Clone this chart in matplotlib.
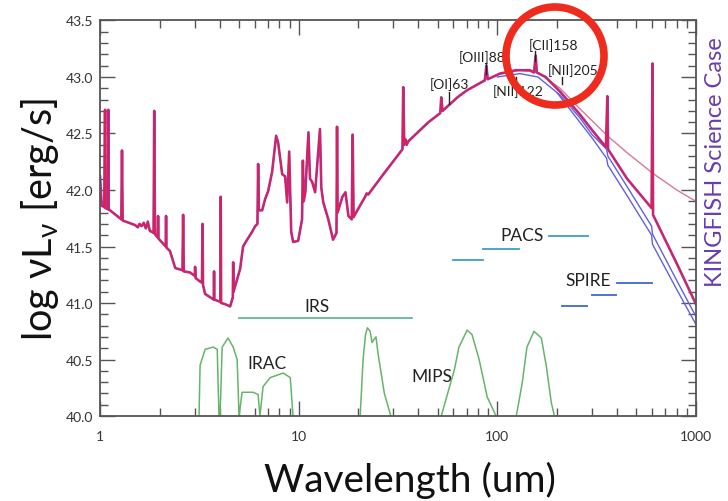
import matplotlib.pyplot as plt
from matplotlib.patches import Ellipse
from matplotlib.ticker import FixedLocator, NullFormatter

# Спектр галактики (довжина хвилі в мкм, log vLv)
sed_wave = [1.00, 1.02, 1.05, 1.06, 1.065, 1.095, 1.10, 1.105, 1.28, 1.29, 1.30,
            1.50, 1.55, 1.58, 1.62, 1.66, 1.70, 1.74, 1.78, 1.86, 1.875, 1.89,
            1.95, 1.96, 1.97, 2.14, 2.15, 2.16, 2.25, 2.39, 2.60, 2.62, 2.64,
            2.84, 3.00, 3.01, 3.03, 3.19, 3.26, 3.28, 3.30, 3.38, 3.74, 3.75,
            3.76, 4.04, 4.05, 4.07, 4.26, 4.52, 4.66, 4.68, 4.70, 5.07, 5.25,
            5.5, 5.83, 6.04, 6.2, 6.25, 6.3, 6.55, 6.78, 7.02, 7.35, 7.70, 7.88,
            8.26, 8.55, 8.75, 8.96, 9.17, 9.38, 9.94, 10.4, 10.5, 10.6, 10.8,
            11.2, 11.4, 11.7, 12.1, 12.8, 13.0, 13.3, 14.1, 14.9, 15.5, 15.6,
            15.7, 16.6, 17.2, 17.8, 18.5, 18.7, 18.9, 19.3, 21.6, 22.0, 22.4,
            26.7, 33.3, 33.6, 34.0, 34.4, 35.0, 35.6, 45.0, 51.6, 52.2, 53.0,
            57.0, 63.0, 70.0, 86.5, 88.1, 89.5, 103, 124, 146, 153, 156, 158,
            175, 207, 260, 300, 352, 358, 361, 450, 598, 604, 608, 800, 1000]
sed_lum = [42.12, 41.86, 41.85, 42.71, 41.84, 41.83, 42.71, 41.83, 41.74, 42.35, 41.73,
           41.69, 41.67, 41.70, 41.68, 41.71, 41.66, 41.72, 41.64, 41.62, 42.70, 41.61,
           41.58, 41.77, 41.57, 41.50, 41.77, 41.49, 41.46, 41.31, 41.29, 41.78, 41.28,
           41.27, 41.24, 41.32, 41.22, 41.19, 41.18, 41.70, 41.16, 41.08, 41.03, 41.28,
           41.03, 41.01, 41.94, 41.00, 40.99, 40.97, 41.05, 41.36, 41.10, 41.30, 41.50,
           41.56, 41.63, 41.68, 41.70, 42.23, 41.82, 41.82, 41.92, 41.99, 42.16, 42.48, 42.42,
           42.14, 42.12, 41.89, 42.34, 41.63, 41.54, 41.55, 41.74, 42.26, 41.90, 41.98,
           42.51, 42.10, 42.07, 41.98, 42.54, 42.02, 41.89, 41.74, 41.56, 41.62, 42.56,
           41.80, 41.94, 41.98, 41.77, 41.74, 42.49, 41.76, 41.79, 41.94, 41.97, 41.96,
           42.14, 42.36, 42.91, 42.40, 42.45, 42.40, 42.43, 42.60, 42.68, 42.82, 42.70,
           42.75, 42.82, 42.88, 42.97, 43.10, 42.98, 43.03, 43.06, 43.06, 43.04, 43.19, 43.04,
           43.00, 42.87, 42.67, 42.53, 42.38, 42.83, 42.36, 42.10, 41.84, 43.12, 41.78, 41.35, 40.99]

# Моделі пилу в далекому ІЧ
dust_wave = [100, 130, 160, 207, 260, 358, 450, 604, 800, 1000]
dust_lum = [43.02, 43.06, 43.04, 42.90, 42.72, 42.48, 42.33, 42.15, 42.00, 41.90]

blue1_wave = [100, 130, 160, 207, 260, 300, 355, 360, 450, 598, 604, 800, 1000]
blue1_lum = [43.00, 43.03, 43.00, 42.84, 42.64, 42.49, 42.36, 42.30, 42.03, 41.68, 41.61, 41.20, 40.88]
blue2_wave = [200, 300, 355, 360, 450, 598, 604, 800, 1000]
blue2_lum = [42.86, 42.46, 42.28, 42.22, 41.95, 41.60, 41.52, 41.12, 40.81]

# Фільтри IRAC та MIPS
irac_wave = [3.15, 3.19, 3.38, 3.71, 3.89, 3.97, 4.02, 4.12, 4.41, 4.68, 4.90, 5.01,
             5.19, 5.90, 6.25, 6.38, 6.62, 7.19, 8.36, 9.07, 9.37]
irac_resp = [40.0, 40.45, 40.59, 40.61, 40.59, 40.0, 40.0, 40.61, 40.69, 40.61, 40.50, 40.0,
             40.21, 40.21, 40.19, 40.0, 40.26, 40.34, 40.38, 40.34, 40.0]
mips24_wave = [20.4, 21.1, 21.7, 22.2, 22.9, 23.4, 24.0, 24.5, 25.1, 27.0, 29.1]
mips24_resp = [40.0, 40.5, 40.72, 40.78, 40.75, 40.65, 40.68, 40.7, 40.55, 40.2, 40.0]
mips70_wave = [52.2, 60.8, 64.1, 70.5, 74.6, 81.0, 88.9, 98.5]
mips70_resp = [40.0, 40.41, 40.61, 40.76, 40.72, 40.50, 40.17, 40.0]
mips160_wave = [124.6, 133.4, 141, 153, 166.6, 176.5, 186.9, 193.8]
mips160_resp = [40.0, 40.29, 40.61, 40.75, 40.69, 40.44, 40.12, 40.0]

# Діапазони спектрометрів і фотометрів
irs_range = [5.0, 37.3]
irs_level = 40.87
pacs_ranges = [(60, 85), (85, 129), (181, 287)]
pacs_levels = [41.38, 41.48, 41.59]
spire_ranges = [(212, 284), (301, 397), (402, 604)]
spire_levels = [40.97, 41.07, 41.18]

# Спектральні лінії: назва, довжина хвилі мітки, позиція підпису
line_names = ['[OI]63', '[OIII]88', '[NII]122', '[CII]158', '[NII]205']
line_marks = [57.3, 88.1, 124.6, 155, 212.6]
line_mark_lo = [42.76, 43.03, 42.94, 43.14, 42.94]
line_mark_hi = [42.87, 43.12, 43.00, 43.23, 43.00]
label_wave = [57.3, 84, 127.6, 191, 241.5]
label_lum = [42.94, 43.18, 42.88, 43.29, 43.07]

plt.rcParams['font.family'] = ['Lato', 'DejaVu Sans']

fig = plt.figure(figsize=(7.28, 5.02), dpi=100)
ax = fig.add_axes([0.1374, 0.1693, 0.8186, 0.7879])

ax.plot(blue2_wave, blue2_lum, color='#6160e0', lw=1.0)
ax.plot(blue1_wave, blue1_lum, color='#6160e0', lw=1.0)
ax.plot(dust_wave, dust_lum, color='#dc7890', lw=1.0)
ax.plot(sed_wave, sed_lum, color='#9a3fb0', lw=1.9)
ax.plot(sed_wave, sed_lum, color='#dc1f55', lw=1.1)

green = '#66b46a'
ax.plot(irac_wave, irac_resp, color=green, lw=1.1)
ax.plot(mips24_wave, mips24_resp, color=green, lw=1.1)
ax.plot(mips70_wave, mips70_resp, color=green, lw=1.1)
ax.plot(mips160_wave, mips160_resp, color=green, lw=1.1)

ax.plot(irs_range, [irs_level, irs_level], color='#66b8a0', lw=1.3)
for (w1, w2), lvl in zip(pacs_ranges, pacs_levels):
    ax.plot([w1, w2], [lvl, lvl], color='#3f9fc0', lw=1.3)
for (w1, w2), lvl in zip(spire_ranges, spire_levels):
    ax.plot([w1, w2], [lvl, lvl], color='#4068d0', lw=1.3)

inst_font = dict(fontsize=12.5, color='#222222', ha='center', va='center')
ax.text(12.3, 40.97, 'IRS', **inst_font)
ax.text(6.9, 40.47, 'IRAC', **inst_font)
ax.text(47, 40.35, 'MIPS', **inst_font)
ax.text(133, 41.60, 'PACS', **inst_font)
ax.text(287, 41.20, 'SPIRE', **inst_font)

for w, lo, hi in zip(line_marks, line_mark_lo, line_mark_hi):
    ax.plot([w, w], [lo, hi], color='#222222', lw=1)
for name, w, v in zip(line_names, label_wave, label_lum):
    ax.text(w, v, name, fontsize=10, color='#222222', ha='center', va='center')

ax.set_xscale('log')
ax.set_xlim(1, 1000)
ax.set_ylim(40.0, 43.5)
ax.xaxis.set_major_locator(FixedLocator([1, 10, 100, 1000]))
ax.xaxis.set_minor_locator(FixedLocator([m * d for d in [1, 10, 100] for m in range(2, 10)]))
ax.xaxis.set_minor_formatter(NullFormatter())
ax.set_xticklabels(['1', '10', '100', '1000'])
ax.yaxis.set_major_locator(FixedLocator([40.0, 40.5, 41.0, 41.5, 42.0, 42.5, 43.0, 43.5]))
ax.yaxis.set_minor_locator(FixedLocator([40 + i * 0.1 for i in range(36)]))
ax.set_yticklabels(['40.0', '40.5', '41.0', '41.5', '42.0', '42.5', '43.0', '43.5'])
ax.tick_params(which='both', direction='in', top=True, right=True, color='#555555',
               labelsize=10, labelcolor='#333333')
ax.tick_params(which='major', length=11, width=1)
ax.tick_params(which='minor', length=5.5, width=1)
ax.tick_params(axis='x', pad=10)
ax.tick_params(axis='y', pad=5)
for s in ax.spines.values():
    s.set_color('#555555')
    s.set_linewidth(1.3)

fig.text(40 / 728, 1 - 220 / 502, 'log νL$_\\mathregular{ν}$ [erg/s]', rotation=90,
         fontsize=28.5, ha='center', va='center', color='#111111')
fig.text(410 / 728, 1 - 480 / 502, 'Wavelength (um)', fontsize=28,
         ha='center', va='center', color='#111111')
fig.text(716 / 728, 1 - 162 / 502, 'KINGFISH Science Case', rotation=90,
         fontsize=17, ha='center', va='center', color='#6a3db0')

fig.add_artist(Ellipse((555 / 728, 1 - 57 / 502), width=98 / 728, height=98 / 502,
                       transform=fig.transFigure, fill=False, ec='#ee2b1d', lw=5.5))

fig.savefig('out.png', dpi=100)
